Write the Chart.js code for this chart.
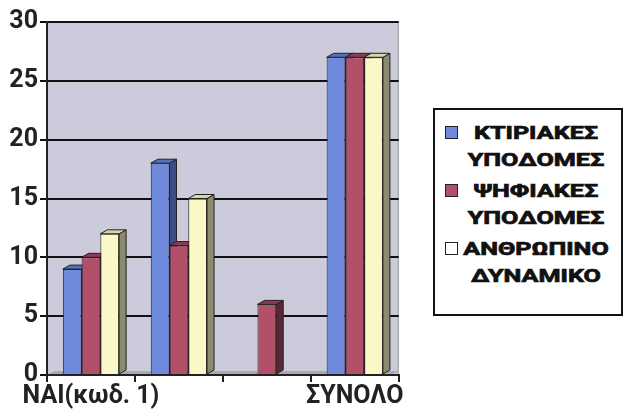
<!DOCTYPE html>
<html lang="el">
  <head>
    <meta charset="UTF-8" />
    <title>Υποδομές</title>
    <script src="https://cdn.jsdelivr.net/npm/chart.js"></script>
    <style>
      body { margin: 0; background: #fff; }
      #wrap { position: relative; width: 625px; height: 415px; }
      #chartBox { position: absolute; left: 0; top: 5px; width: 404px; height: 410px; }
      #legend {
        position: absolute; left: 433px; top: 108px; width: 190px; height: 208px;
        border: 2px solid #111; box-sizing: border-box; padding-top: 9px;
        font-family: Roboto, sans-serif; font-weight: 700; font-size: 18px; color: #111;
        -webkit-text-stroke: 0.7px #111;
      }
      .item { position: relative; margin-bottom: 4px; }
      .sw { position: absolute; left: 10px; top: 7px; width: 11px; height: 11px; border: 1px solid #222; }
      .txt { margin-left: 26px; text-align: center; line-height: 27px; transform: scaleX(1.4); transform-origin: 50% 50%; width: 150px; }
    </style>
  </head>
  <body>
    <div id="wrap">
      <div id="chartBox"><canvas id="c"></canvas></div>
      <div id="legend"></div>
    </div>

    <script>
      // categories (2nd and 3rd labels are not shown in the original)
      const categories = ["ΝΑΙ(κωδ. 1)", "", "", "ΣΥΝΟΛΟ"];
      const ktiriakes = [9, 18, 0, 27];
      const psifiakes = [10, 11, 6, 27];
      const anthropino = [12, 15, 0, 27];
      const yTicks = [0, 5, 10, 15, 20, 25, 30];

      const seriesNames = [
        ["ΚΤΙΡΙΑΚΕΣ", "ΥΠΟΔΟΜΕΣ"],
        ["ΨΗΦΙΑΚΕΣ", "ΥΠΟΔΟΜΕΣ"],
        ["ΑΝΘΡΩΠΙΝΟ", "ΔΥΝΑΜΙΚΟ"],
      ];
      const fronts = ["#6f89dc", "#b34f69", "#fbf8c8"];
      const sides = ["#3b4c86", "#5a2738", "#8c8b70"];
      const tops = ["#5570c0", "#8e3a52", "#d8d5a8"];

      const DX = 7, DY = 4;

      // plot background + 3D faces of the bars (drawn behind the bar fronts)
      const bars3d = {
        id: "bars3d",
        beforeDraw(chart) {
          const { ctx, chartArea: a } = chart;
          ctx.save();
          ctx.fillStyle = "#cbcbdb";
          ctx.fillRect(a.left, a.top, a.right - a.left, a.bottom - a.top);
          // floor
          ctx.fillStyle = "#a9a9b4";
          ctx.beginPath();
          ctx.moveTo(a.left, a.bottom);
          ctx.lineTo(a.left + DX, a.bottom - DY);
          ctx.lineTo(a.right, a.bottom - DY);
          ctx.lineTo(a.right - DX, a.bottom);
          ctx.closePath();
          ctx.fill();
          ctx.strokeStyle = "#999";
          ctx.lineWidth = 1;
          ctx.strokeRect(a.left + 0.5, a.top + 0.5, a.right - a.left - 1, a.bottom - a.top - 1);
          ctx.restore();
        },
        beforeDatasetsDraw(chart) {
          const ctx = chart.ctx;
          ctx.save();
          ctx.lineWidth = 1;
          ctx.strokeStyle = "#222";
          chart.data.datasets.forEach((ds, di) => {
            const meta = chart.getDatasetMeta(di);
            meta.data.forEach((bar, i) => {
              if (!ds.data[i]) return;
              const p = bar.getProps(["x", "y", "base", "width"], true);
              const l = p.x - p.width / 2, r = p.x + p.width / 2;
              // side
              ctx.fillStyle = sides[di];
              ctx.beginPath();
              ctx.moveTo(r, p.y);
              ctx.lineTo(r + DX, p.y - DY);
              ctx.lineTo(r + DX, p.base - DY);
              ctx.lineTo(r, p.base);
              ctx.closePath();
              ctx.fill();
              ctx.stroke();
              // top
              ctx.fillStyle = tops[di];
              ctx.beginPath();
              ctx.moveTo(l, p.y);
              ctx.lineTo(l + DX, p.y - DY);
              ctx.lineTo(r + DX, p.y - DY);
              ctx.lineTo(r, p.y);
              ctx.closePath();
              ctx.fill();
              ctx.stroke();
            });
          });
          ctx.restore();
        },
      };

      const font = { family: "Roboto, sans-serif", size: 25, weight: 700 };

      new Chart(document.getElementById("c"), {
        type: "bar",
        data: {
          labels: categories,
          datasets: [ktiriakes, psifiakes, anthropino].map((d, i) => ({
            label: seriesNames[i].join(" "),
            data: d,
            backgroundColor: fronts[i],
            borderColor: "#222",
            borderWidth: 1,
            barPercentage: 1,
            categoryPercentage: 0.64,
          })),
        },
        options: {
          responsive: true,
          maintainAspectRatio: false,
          animation: false,
          layout: { padding: { top: 15, right: 4 } },
          plugins: { legend: { display: false }, tooltip: { enabled: false } },
          scales: {
            x: {
              grid: { drawOnChartArea: false, drawTicks: true, tickLength: 7, color: "#222", lineWidth: 2 },
              border: { color: "#222", width: 2 },
              ticks: { color: "#222", font, autoSkip: false, maxRotation: 0, padding: 0 },
              afterFit(s) { s.height = 40; },
            },
            y: {
              min: 0,
              max: 30,
              afterBuildTicks(s) { s.ticks = yTicks.map((v) => ({ value: v })); },
              grid: { color: "#111", lineWidth: 2, tickLength: 7 },
              border: { color: "#222", width: 2 },
              ticks: { color: "#222", font, padding: 2 },
              afterFit(s) { s.width = 47; },
            },
          },
        },
        plugins: [bars3d],
      });

      // legend (html, real text)
      const leg = document.getElementById("legend");
      seriesNames.forEach((lines, i) => {
        const it = document.createElement("div");
        it.className = "item";
        const sw = document.createElement("div");
        sw.className = "sw";
        sw.style.background = i === 2 ? "#ffffff" : fronts[i];
        it.appendChild(sw);
        const t = document.createElement("div");
        t.className = "txt";
        t.innerHTML = lines.join("<br>");
        it.appendChild(t);
        leg.appendChild(it);
      });
    </script>
  </body>
</html>
